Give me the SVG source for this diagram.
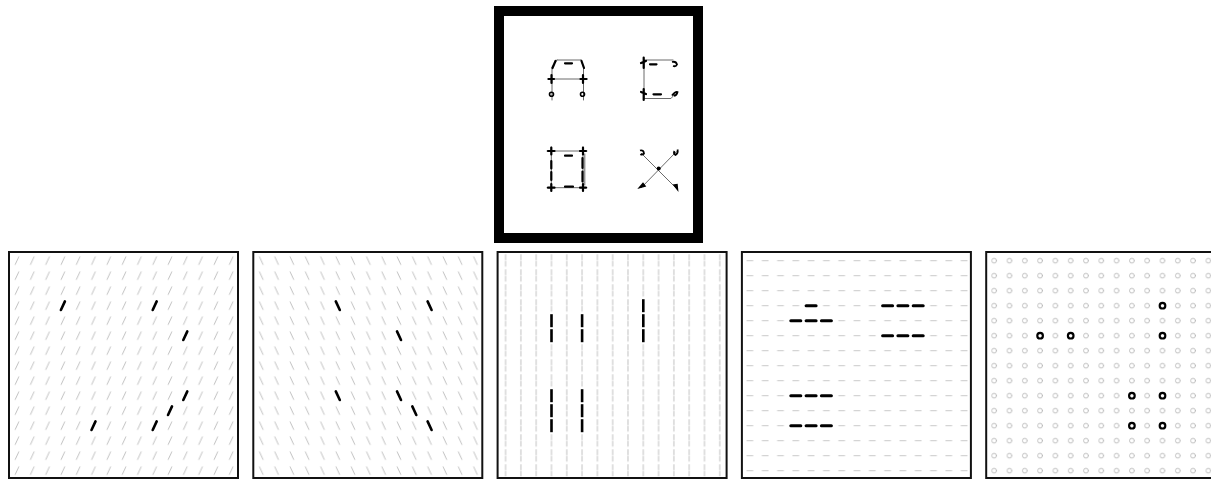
<svg xmlns="http://www.w3.org/2000/svg" width="1211" height="480" viewBox="0 0 1211 480">
<style>
  .frame{fill:none;stroke:#111;stroke-width:2}
  .thin{fill:none;stroke:#6a6a6a;stroke-width:1;stroke-linecap:round}
  .blk{fill:none;stroke:#000;stroke-width:2.2;stroke-linecap:round}
  .bg{stroke:#b0b0b0;stroke-width:0.8;fill:none;stroke-linecap:round}
</style>
<defs>
  <pattern id="pSlash" patternUnits="userSpaceOnUse" x="0.35" y="1.2" width="15.3" height="15">
    <line class="bg" x1="5.9" y1="11.3" x2="9.4" y2="3.7"/>
  </pattern>
  <pattern id="pBack" patternUnits="userSpaceOnUse" x="0.35" y="1.2" width="15.3" height="15">
    <line class="bg" x1="5.9" y1="3.7" x2="9.4" y2="11.3"/>
  </pattern>
  <pattern id="pVert" patternUnits="userSpaceOnUse" x="0.35" y="1.2" width="15.3" height="15">
    <line class="bg" x1="7.65" y1="1.5" x2="7.65" y2="13.5" stroke-dasharray="5 1.5"/>
  </pattern>
  <pattern id="pHor" patternUnits="userSpaceOnUse" x="0.35" y="1.2" width="15.3" height="15">
    <line x1="4.3" y1="7.5" x2="11" y2="7.5" stroke="#c4c4c4" stroke-width="0.9"/>
  </pattern>
  <pattern id="pCirc" patternUnits="userSpaceOnUse" x="0.35" y="1.2" width="15.3" height="15">
    <circle class="bg" cx="7.65" cy="7.5" r="2.4"/>
  </pattern>
  <line id="bSlash" x1="-2" y1="4.3" x2="2" y2="-4.3" stroke="#000" stroke-width="2.6" stroke-linecap="round"/>
  <line id="bBack" x1="-2" y1="-4.3" x2="2" y2="4.3" stroke="#000" stroke-width="2.6" stroke-linecap="round"/>
  <line id="bVert" x1="0" y1="-6.5" x2="0" y2="6.5" stroke="#000" stroke-width="2.6"/>
  <line id="bHor" x1="-5" y1="0" x2="5" y2="0" stroke="#000" stroke-width="3" stroke-linecap="round"/>
  <circle id="bCirc" r="2.8" fill="none" stroke="#000" stroke-width="2.2"/>
</defs>

<g id="letters-box">
  <rect x="499" y="11" width="199" height="227" fill="#fff" stroke="#000" stroke-width="10"/>
  <g id="letter-A">
    <path class="thin" d="M557 60 H581 M557 60 L552 67 V100 M581 60 L583.5 67 V100 M548 79 H587"/>
    <path class="blk" d="M565 63.3 H572 M552.5 68 L555.5 61 M581.5 61 L584 68 M551.5 75 V83 M548.5 79 H554 M583 75 V83 M580.5 79 H586.5"/>
    <circle cx="551.5" cy="94.3" r="2" fill="none" stroke="#000" stroke-width="1.6"/>
    <circle cx="582.5" cy="94.3" r="2" fill="none" stroke="#000" stroke-width="1.6"/>
  </g>
  <g id="letter-C">
    <path class="thin" d="M644 60 V98.5 M644 60 H673 M644 98.5 H671 L675 94"/>
    <path class="blk" d="M650 64.3 H656.5 M653.5 94.3 H661 M643.7 57.5 V68 M641 63 L646 61 M643.7 89 V100 M641 92 L646 94"/>
    <path d="M672 62 Q676 61 677 64.5 Q676 67 673 66" fill="none" stroke="#000" stroke-width="1.8"/>
    <path d="M672 95.5 Q675.5 91 677.5 92 Q677 95 674 96" fill="none" stroke="#000" stroke-width="1.8"/>
  </g>
  <g id="letter-box">
    <path class="thin" d="M547 151 H587 M547 187.7 H587 M551.3 147 V191 M583 147 V191 M584.8 154 V185"/>
    <path class="blk" d="M565 155.7 H572 M565 186.7 H573 M551.3 161 V168.5 M551.3 172 V180 M582.5 158 V168 M582.5 171.5 V181.5 M551.3 147.5 V154.5 M548 151 H554.5 M583 147.5 V154.5 M580 151 H586 M551.3 184 V191 M548 187.7 H554.5 M583 184 V191 M580 187.7 H586"/>
  </g>
  <g id="letter-X">
    <path class="thin" d="M641.3 153.3 L676.3 188.3 M676.3 151.7 L641.3 187.7"/>
    <circle cx="658.7" cy="168.5" r="2" fill="#000"/>
    <path d="M640 150.5 Q643.5 149.5 644 153.5 Q642 155.5 640.5 154" fill="none" stroke="#000" stroke-width="1.8"/>
    <path d="M677.5 149.5 Q678.5 153 675.5 155 Q673 153.5 674.5 151" fill="none" stroke="#000" stroke-width="1.8"/>
    <path d="M639.5 187.5 L643 183.5 L645 186 Z" fill="#000" stroke="#000" stroke-width="1.5"/>
    <path d="M677.5 189.5 L674 185 L677 184.5 Z" fill="#000" stroke="#000" stroke-width="1.5"/>
  </g>
</g>

<g id="panel-1" transform="translate(9,252)">
  <rect x="1.5" y="1.5" width="226" height="223" fill="url(#pSlash)"/>
  <rect class="frame" x="0" y="0" width="229" height="226"/>
  <use href="#bSlash" x="53.9" y="53.7"/>
  <use href="#bSlash" x="145.7" y="53.7"/>
  <use href="#bSlash" x="176.3" y="83.7"/>
  <use href="#bSlash" x="176.3" y="143.7"/>
  <use href="#bSlash" x="161" y="158.7"/>
  <use href="#bSlash" x="84.5" y="173.7"/>
  <use href="#bSlash" x="145.7" y="173.7"/>
</g>

<g id="panel-2" transform="translate(253.3,252)">
  <rect x="1.5" y="1.5" width="226" height="223" fill="url(#pBack)"/>
  <rect class="frame" x="0" y="0" width="229" height="226"/>
  <use href="#bBack" x="84.5" y="53.7"/>
  <use href="#bBack" x="176.3" y="53.7"/>
  <use href="#bBack" x="145.7" y="83.7"/>
  <use href="#bBack" x="84.5" y="143.7"/>
  <use href="#bBack" x="145.7" y="143.7"/>
  <use href="#bBack" x="161" y="158.7"/>
  <use href="#bBack" x="176.3" y="173.7"/>
</g>

<g id="panel-3" transform="translate(497.6,252)">
  <rect x="1.5" y="1.5" width="226" height="223" fill="url(#pVert)"/>
  <rect class="frame" x="0" y="0" width="229" height="226"/>
  <use href="#bVert" x="53.9" y="68.7"/>
  <use href="#bVert" x="53.9" y="83.7"/>
  <use href="#bVert" x="84.5" y="68.7"/>
  <use href="#bVert" x="84.5" y="83.7"/>
  <use href="#bVert" x="145.7" y="53.7"/>
  <use href="#bVert" x="145.7" y="68.7"/>
  <use href="#bVert" x="145.7" y="83.7"/>
  <use href="#bVert" x="53.9" y="143.7"/>
  <use href="#bVert" x="53.9" y="158.7"/>
  <use href="#bVert" x="53.9" y="173.7"/>
  <use href="#bVert" x="84.5" y="143.7"/>
  <use href="#bVert" x="84.5" y="158.7"/>
  <use href="#bVert" x="84.5" y="173.7"/>
</g>

<g id="panel-4" transform="translate(741.9,252)">
  <rect x="1.5" y="1.5" width="226" height="223" fill="url(#pHor)"/>
  <rect class="frame" x="0" y="0" width="229" height="226"/>
  <use href="#bHor" x="69.2" y="53.7"/>
  <use href="#bHor" x="145.7" y="53.7"/>
  <use href="#bHor" x="161" y="53.7"/>
  <use href="#bHor" x="176.3" y="53.7"/>
  <use href="#bHor" x="53.9" y="68.7"/>
  <use href="#bHor" x="69.2" y="68.7"/>
  <use href="#bHor" x="84.5" y="68.7"/>
  <use href="#bHor" x="145.7" y="83.7"/>
  <use href="#bHor" x="161" y="83.7"/>
  <use href="#bHor" x="176.3" y="83.7"/>
  <use href="#bHor" x="53.9" y="143.7"/>
  <use href="#bHor" x="69.2" y="143.7"/>
  <use href="#bHor" x="84.5" y="143.7"/>
  <use href="#bHor" x="53.9" y="173.7"/>
  <use href="#bHor" x="69.2" y="173.7"/>
  <use href="#bHor" x="84.5" y="173.7"/>
</g>

<g id="panel-5" transform="translate(986.2,252)">
  <rect x="1.5" y="1.5" width="226" height="223" fill="url(#pCirc)"/>
  <rect class="frame" x="0" y="0" width="229" height="226"/>
  <use href="#bCirc" x="176.3" y="53.7"/>
  <use href="#bCirc" x="53.9" y="83.7"/>
  <use href="#bCirc" x="84.5" y="83.7"/>
  <use href="#bCirc" x="176.3" y="83.7"/>
  <use href="#bCirc" x="145.7" y="143.7"/>
  <use href="#bCirc" x="176.3" y="143.7"/>
  <use href="#bCirc" x="145.7" y="173.7"/>
  <use href="#bCirc" x="176.3" y="173.7"/>
</g>
</svg>
